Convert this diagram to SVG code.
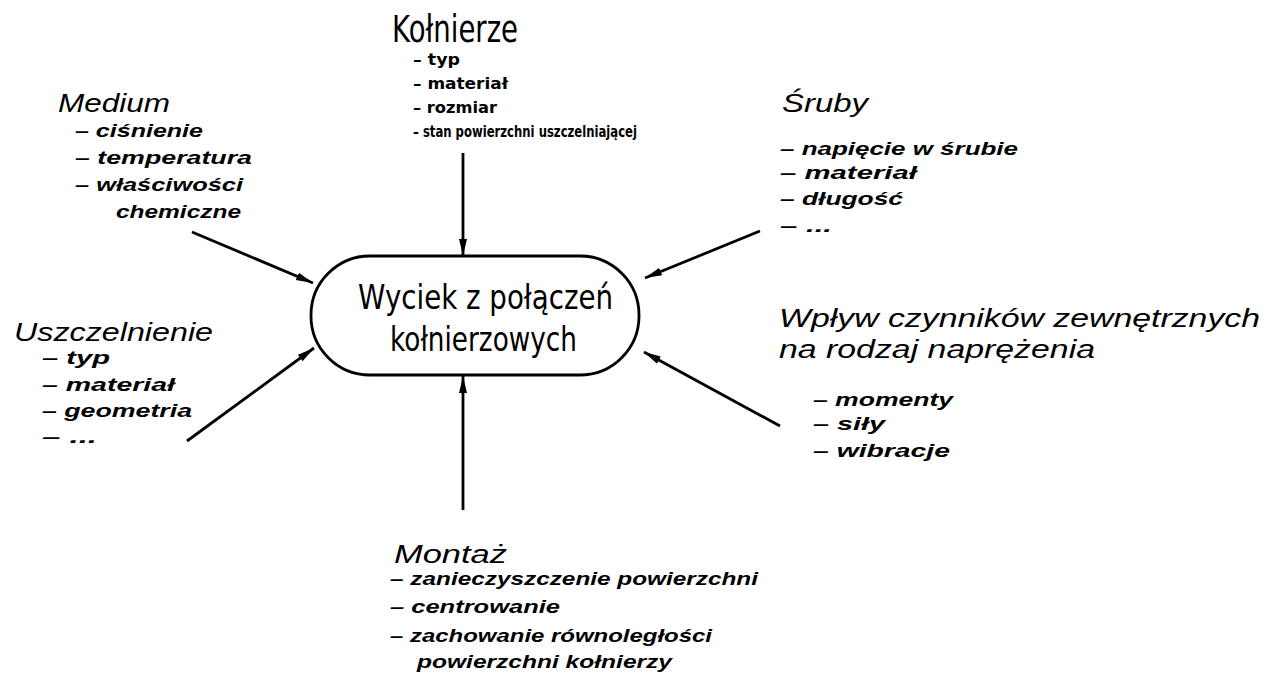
<svg xmlns="http://www.w3.org/2000/svg" width="1269" height="675" viewBox="0 0 1269 675">
<style>
.h{font-family:"Liberation Sans",Arial,sans-serif;font-style:italic;font-size:26px;fill:#000}
.i{font-family:"Liberation Sans",Arial,sans-serif;font-style:italic;font-weight:bold;font-size:18px;fill:#000}
.u{font-family:"DejaVu Sans","Liberation Sans",sans-serif;font-size:37px;fill:#000}
.c{font-family:"DejaVu Sans","Liberation Sans",sans-serif;font-size:34px;fill:#000}
.k{font-family:"DejaVu Sans","Liberation Sans",sans-serif;font-weight:bold;font-size:16px;fill:#000}
.ln{stroke:#000;stroke-width:2.8;fill:none;marker-end:url(#ah)}
</style>
<defs>
<marker id="ah" markerUnits="userSpaceOnUse" markerWidth="20" markerHeight="12" refX="17" refY="5" orient="auto">
<path d="M0,1 L17,5 L0,9 Z" fill="#000"/>
</marker>
</defs>
<rect width="1269" height="675" fill="#fff"/>
<g id="connectors">
<line class="ln" x1="192" y1="232" x2="313" y2="283"/>
<line class="ln" x1="187" y1="441" x2="314" y2="348"/>
<line class="ln" x1="760" y1="231" x2="645" y2="278"/>
<line class="ln" x1="780" y1="426" x2="644" y2="352"/>
<line class="ln" x1="463" y1="153" x2="463" y2="256"/>
<line class="ln" x1="463" y1="510" x2="463" y2="376"/>
</g>
<g id="center">
<rect x="311" y="256" width="328" height="119" rx="59" ry="59" fill="#fff" stroke="#000" stroke-width="2.8"/>
<text class="c" x="358" y="309" textLength="255" lengthAdjust="spacingAndGlyphs">Wyciek z połączeń</text>
<text class="c" x="390" y="351" textLength="187" lengthAdjust="spacingAndGlyphs">kołnierzowych</text>
</g>
<g id="kolnierze">
<text class="u" x="392" y="42" textLength="126" lengthAdjust="spacingAndGlyphs">Kołnierze</text>
<text class="k" x="413" y="65" textLength="47" lengthAdjust="spacingAndGlyphs">– typ</text>
<text class="k" x="413" y="89" textLength="95" lengthAdjust="spacingAndGlyphs">– materiał</text>
<text class="k" x="413" y="113" textLength="84" lengthAdjust="spacingAndGlyphs">– rozmiar</text>
<text class="k" x="413" y="137" textLength="224" lengthAdjust="spacingAndGlyphs">– stan powierzchni uszczelniającej</text>
</g>
<g id="medium">
<text class="h" x="58" y="112" textLength="112" lengthAdjust="spacingAndGlyphs">Medium</text>
<text class="i" x="75" y="137" textLength="128" lengthAdjust="spacingAndGlyphs">–  ciśnienie</text>
<text class="i" x="75" y="164" textLength="177" lengthAdjust="spacingAndGlyphs">–  temperatura</text>
<text class="i" x="75" y="191" textLength="168" lengthAdjust="spacingAndGlyphs">–  właściwości</text>
<text class="i" x="116" y="218" textLength="125" lengthAdjust="spacingAndGlyphs">chemiczne</text>
</g>
<g id="sruby">
<text class="h" x="782" y="112" textLength="86" lengthAdjust="spacingAndGlyphs">Śruby</text>
<text class="i" x="780" y="155" textLength="238" lengthAdjust="spacingAndGlyphs">–  napięcie w śrubie</text>
<text class="i" x="780" y="179" textLength="137" lengthAdjust="spacingAndGlyphs">–  materiał</text>
<text class="i" x="780" y="205" textLength="123" lengthAdjust="spacingAndGlyphs">–  długość</text>
<text class="i" x="780" y="232" textLength="52" lengthAdjust="spacingAndGlyphs">–  ...</text>
</g>
<g id="uszczelnienie">
<text class="h" x="14" y="341" textLength="199" lengthAdjust="spacingAndGlyphs">Uszczelnienie</text>
<text class="i" x="42" y="364" textLength="68" lengthAdjust="spacingAndGlyphs">–  typ</text>
<text class="i" x="42" y="391" textLength="133" lengthAdjust="spacingAndGlyphs">–  materiał</text>
<text class="i" x="42" y="417" textLength="150" lengthAdjust="spacingAndGlyphs">–  geometria</text>
<text class="i" x="42" y="443" textLength="55" lengthAdjust="spacingAndGlyphs">–  ...</text>
</g>
<g id="wplyw">
<text class="h" x="779" y="327" textLength="481" lengthAdjust="spacingAndGlyphs">Wpływ czynników zewnętrznych</text>
<text class="h" x="779" y="358" textLength="316" lengthAdjust="spacingAndGlyphs">na rodzaj naprężenia</text>
<text class="i" x="813" y="406" textLength="140" lengthAdjust="spacingAndGlyphs">–  momenty</text>
<text class="i" x="813" y="430" textLength="72" lengthAdjust="spacingAndGlyphs">–  siły</text>
<text class="i" x="813" y="457" textLength="137" lengthAdjust="spacingAndGlyphs">–  wibracje</text>
</g>
<g id="montaz">
<text class="h" x="394" y="563" textLength="113" lengthAdjust="spacingAndGlyphs">Montaż</text>
<text class="i" x="390" y="585" textLength="368" lengthAdjust="spacingAndGlyphs">–  zanieczyszczenie powierzchni</text>
<text class="i" x="390" y="613" textLength="170" lengthAdjust="spacingAndGlyphs">–  centrowanie</text>
<text class="i" x="390" y="642" textLength="322" lengthAdjust="spacingAndGlyphs">–  zachowanie równoległości</text>
<text class="i" x="417" y="668" textLength="255" lengthAdjust="spacingAndGlyphs">powierzchni kołnierzy</text>
</g>
</svg>
